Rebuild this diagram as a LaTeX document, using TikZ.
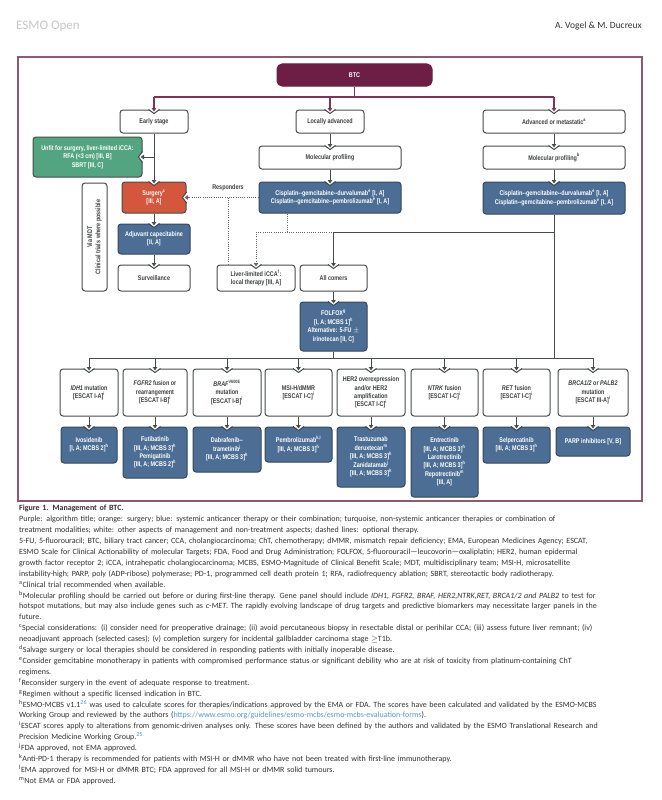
\documentclass[tikz,border=0pt]{standalone}
\usepackage{fontspec}
\setmainfont{Carlito}
\newfontfamily\boxfont[FakeStretch=0.8]{Liberation Sans}
\usetikzlibrary{arrows.meta}
\definecolor{purp}{RGB}{108,30,68}
\definecolor{purpline}{RGB}{128,50,88}
\definecolor{framec}{RGB}{140,90,115}
\definecolor{bord}{RGB}{70,78,74}
\definecolor{blueF}{RGB}{76,110,148}
\definecolor{blueD}{RGB}{52,72,95}
\definecolor{orangeF}{RGB}{212,86,60}
\definecolor{turqF}{RGB}{82,165,128}
\definecolor{txt}{RGB}{60,64,62}
\definecolor{capc}{RGB}{50,50,50}
\definecolor{linkc}{RGB}{90,150,200}
\definecolor{hdrgray}{RGB}{200,200,200}
\newcommand\mybox[7]{\node[#1, minimum width={(#5-#3)*1pt}, minimum height={(#6-#4)*1pt}] (#2) at ({(#3+#5)/2},{(#4+#6)/2}) {#7};}
\newcommand\notchT[2]{%
 \fill[white] ([xshift=-5.5pt,yshift=0.9pt]#1) -- ([xshift=5.5pt,yshift=0.9pt]#1) -- ([yshift=-4pt]#1) -- cycle;
 \draw[draw=#2, line width=1pt] ([xshift=-5.5pt]#1) -- ([yshift=-4pt]#1) -- ([xshift=5.5pt]#1);}
\newcommand\notchR[2]{%
 \fill[white] ([xshift=0.9pt,yshift=5.5pt]#1) -- ([xshift=0.9pt,yshift=-5.5pt]#1) -- ([xshift=-4pt]#1) -- cycle;
 \draw[draw=#2, line width=1pt] ([yshift=5.5pt]#1) -- ([xshift=-4pt]#1) -- ([yshift=-5.5pt]#1);}
\newcommand\jl[1]{\makebox[622pt][s]{#1}}
\newcommand\su[1]{\textsuperscript{#1}}
\begin{document}
\begin{tikzpicture}[x=1pt,y=-1pt,
 box/.style={draw=bord, line width=1pt, rounded corners=3pt, align=center, inner sep=0.5pt, font=\boxfont\bfseries\fontsize{6.8}{8.4}\selectfont, text=txt, fill=white},
 bbox/.style={box, fill=blueF, draw=blueD, text=white},
 obox/.style={box, fill=orangeF, draw=bord, text=white},
 tbox/.style={box, fill=turqF, draw=bord, text=white},
 pbox/.style={box, fill=purp, draw=purp, text=white, rounded corners=5pt},
 conn/.style={draw=bord, line width=1pt},
 arr/.style={conn, -{Triangle[length=3.5pt,width=4.5pt]}, shorten >=-2pt},
 dline/.style={draw=bord!85, line width=0.9pt, dash pattern=on 1pt off 1.2pt},
 darr/.style={dline, -{Triangle[length=3.5pt,width=4.5pt]}, shorten >=-2pt},
 pline/.style={draw=purpline, line width=1.1pt},
 parr/.style={pline, -{Triangle[length=3.5pt,width=4.5pt]}, shorten >=-2pt}]
\useasboundingbox (0,0) rectangle (661,800);
\fill[white] (0,0) rectangle (661,800);
% header
\node[anchor=west, inner sep=0pt, font=\fontsize{13}{13}\selectfont, text=hdrgray] (hdr) at (16,26) {ESMO Open};
\node[anchor=east, inner sep=0pt, font=\fontsize{9.5}{10}\selectfont, text=capc] (auth) at (642,26) {A. Vogel \& M. Ducreux};
% frame
\node[draw=framec, line width=1.2pt, minimum width=624pt, minimum height=444pt, inner sep=0pt] (frame) at (330,279) {};
% boxes
\mybox{pbox}{btc}{277}{64}{432}{86}{BTC}
\mybox{box}{early}{120}{110}{188}{133}{Early stage}
\mybox{box}{lad}{296}{110}{364}{133}{Locally advanced}
\mybox{box}{advst}{483}{110}{625}{133}{Advanced or metastatic\su{a}}
\mybox{tbox}{turq}{33}{137}{142}{177}{Unfit for surgery, liver-limited iCCA:\\RFA (<3 cm) [III, B]\\SBRT [III, C]}
\mybox{box}{mpla}{259}{146}{401}{169}{Molecular profiling}
\mybox{box}{mpad}{483}{146}{625}{169}{Molecular profiling\su{b}}
\mybox{obox}{surg}{122}{182}{186}{213}{Surgery\su{c}\\{}[III, A]}
\mybox{bbox}{bla}{259}{182}{401}{213}{Cisplatin--gemcitabine--durvalumab\su{e} [I, A]\\Cisplatin--gemcitabine--pembrolizumab\su{e} [I, A]}
\mybox{bbox}{bad}{483}{182}{625}{214}{Cisplatin--gemcitabine--durvalumab\su{e} [I, A]\\Cisplatin--gemcitabine--pembrolizumab\su{e} [I, A]}
\node[font=\boxfont\bfseries\fontsize{6.8}{8.4}\selectfont, text=txt, inner sep=0pt] (resp) at (228,188) {Responders};
\node[box, rotate=90, minimum width=108pt, minimum height=25pt] (mdt) at (94.5,237) {Via MDT\\Clinical trials where possible};
\mybox{bbox}{adj}{118}{224}{190}{254}{Adjuvant capecitabine\\{}[II, A]}
\mybox{box}{surv}{118}{265}{190}{291}{Surveillance}
\mybox{box}{liver}{217}{265}{295}{291}{Liver-limited iCCA\su{f}:\\local therapy [III, A]}
\mybox{box}{allc}{300}{265}{367}{291}{All comers}
\mybox{bbox}{folfox}{300}{302}{367}{351}{FOLFOX\su{g}\\{}[I, A; MCBS 1]\su{h}\\Alternative: 5-FU $\pm$\\irinotecan [II, C]}
% row 1
\mybox{box}{ra1}{60}{369}{118}{416}{\textit{IDH1} mutation\\{}[ESCAT I-A]\su{i}}
\mybox{box}{ra2}{123}{369}{187}{416}{\textit{FGFR2} fusion or\\rearrangement\\{}[ESCAT I-B]\su{i}}
\mybox{box}{ra3}{193}{369}{261}{416}{\textit{BRAF}\su{V600E}\\mutation\\{}[ESCAT I-B]\su{i}}
\mybox{box}{ra4}{265}{369}{332}{416}{MSI-H/dMMR\\{}[ESCAT I-C]\su{i}}
\mybox{box}{ra5}{337}{369}{405}{416}{HER2 overexpression\\and/or HER2\\amplification\\{}[ESCAT I-C]\su{i}}
\mybox{box}{ra6}{411}{369}{478}{416}{\textit{NTRK} fusion\\{}[ESCAT I-C]\su{i}}
\mybox{box}{ra7}{483}{369}{550}{416}{\textit{RET} fusion\\{}[ESCAT I-C]\su{i}}
\mybox{box}{ra8}{558}{369}{628}{416}{\textit{BRCA1/2} or \textit{PALB2}\\mutation\\{}[ESCAT III-A]\su{i}}
% row 2
\mybox{bbox}{rb1}{61}{427}{117}{463}{Ivosidenib\\{}[I, A; MCBS 2]\su{h}}
\mybox{bbox}{rb2}{123}{427}{187}{478}{Futibatinib\\{}[III, A; MCBS 3]\su{h}\\Pemigatinib\\{}[III, A; MCBS 2]\su{h}}
\mybox{bbox}{rb3}{193}{427}{261}{472}{Dabrafenib--\\trametinib\su{j}\\{}[III, A; MCBS 3]\su{h}}
\mybox{bbox}{rb4}{265}{427}{332}{462}{Pembrolizumab\su{k,l}\\{}[III, A; MCBS 3]\su{h}}
\mybox{bbox}{rb5}{337}{427}{405}{487}{Trastuzumab\\deruxtecan\su{m}\\{}[III, A; MCBS 3]\su{h}\\Zanidatamab\su{j}\\{}[III, A; MCBS 3]\su{h}}
\mybox{bbox}{rb6}{411}{427}{478}{497}{Entrectinib\\{}[III, A; MCBS 3]\su{h}\\Larotrectinib\\{}[III, A; MCBS 3]\su{h}\\Repotrectinib\su{m}\\{}[III, A]}
\mybox{bbox}{rb7}{483}{427}{550}{463}{Selpercatinib\\{}[III, A; MCBS 3]\su{h}}
\mybox{bbox}{rb8}{556}{427}{630}{456}{PARP inhibitors [V, B]}
% notches
\notchT{early.north}{bord}\notchT{lad.north}{bord}\notchT{advst.north}{bord}
\notchT{mpla.north}{bord}\notchT{mpad.north}{bord}
\notchT{bla.north}{blueD}\notchT{bad.north}{blueD}
\notchT{surg.north}{bord}\notchR{surg.east}{bord}\notchR{turq.east}{bord}
\notchT{adj.north}{blueD}\notchT{surv.north}{bord}
\notchT{liver.north}{bord}\notchT{allc.north}{bord}\notchT{folfox.north}{blueD}
\foreach \i in {1,...,8}{\notchT{ra\i.north}{bord}\notchT{rb\i.north}{blueD}}
% purple connectors
\coordinate (pj) at (354.5,97);
\draw[pline] (btc.south) -- (pj);
\draw[pline] (early.north |- pj) -- (advst.north |- pj);
\draw[parr] (early.north |- pj) -- (early.north);
\draw[parr] (lad.north |- pj) -- (lad.north);
\draw[parr] (advst.north |- pj) -- (advst.north);
% early stage
\draw[arr] (early.south) -- (surg.north);
\draw[arr] (early.south |- turq.east) -- (turq.east);
\draw[arr] (surg.south) -- (adj.north);
\draw[arr] (adj.south) -- (surv.north);
% locally advanced / advanced
\draw[arr] (lad.south) -- (mpla.north);
\draw[arr] (mpla.south) -- (bla.north);
\draw[arr] (advst.south) -- (mpad.north);
\draw[arr] (mpad.south) -- (bad.north);
% optional routes
\draw[darr] (bla.west) -- (surg.east);
\coordinate (rj) at (228,197.5);
\draw[dline] (rj) -- (rj |- liver.north);
\coordinate (lj) at (287,232);
\draw[dline] (bla.south -| lj) -- (lj);
\draw[dline] (liver.north |- lj) -- (allc.north |- lj);
\draw[darr] (liver.north |- lj) -- (liver.north);
% systemic route
\coordinate (br) at (333.5,358);
\draw[conn] (bad.south) -- (bad.south |- br);
\draw[conn] (bad.south |- lj) -- (allc.north |- lj);
\draw[arr] (allc.north |- lj) -- (allc.north);
\draw[arr] (allc.south) -- (folfox.north);
\draw[conn] (folfox.south) -- (br);
\draw[conn] (ra1.north |- br) -- (ra8.north |- br);
\foreach \i in {1,...,8}{\draw[arr] (ra\i.north |- br) -- (ra\i.north); \draw[arr] (ra\i.south) -- (rb\i.north);}
% caption
\node[anchor=north west, inner sep=0pt, text width=622pt, align=left, text=capc, font=\fontsize{8}{10.9}\selectfont] (cap) at (19,505) {%
\textbf{Figure 1. Management of BTC.}\\
\jl{Purple: algorithm title; orange: surgery; blue: systemic anticancer therapy or their combination; turquoise, non-systemic anticancer therapies or combination of}\\
treatment modalities; white: other aspects of management and non-treatment aspects; dashed lines: optional therapy.\\
\jl{5-FU, 5-fluorouracil; BTC, biliary tract cancer; CCA, cholangiocarcinoma; ChT, chemotherapy; dMMR, mismatch repair deficiency; EMA, European Medicines Agency; ESCAT,}\\
\jl{ESMO Scale for Clinical Actionability of molecular Targets; FDA, Food and Drug Administration; FOLFOX, 5-fluorouracil---leucovorin---oxaliplatin; HER2, human epidermal}\\
\jl{growth factor receptor 2; iCCA, intrahepatic cholangiocarcinoma; MCBS, ESMO-Magnitude of Clinical Benefit Scale; MDT, multidisciplinary team; MSI-H, microsatellite}\\
instability-high; PARP, poly (ADP-ribose) polymerase; PD-1, programmed cell death protein 1; RFA, radiofrequency ablation; SBRT, stereotactic body radiotherapy.\\
\su{a}Clinical trial recommended when available.\\
\jl{\su{b}Molecular profiling should be carried out before or during first-line therapy. Gene panel should include \textit{IDH1, FGFR2, BRAF, HER2,NTRK,RET, BRCA1/2 and PALB2} to test for}\\
\jl{hotspot mutations, but may also include genes such as \textit{c-MET}. The rapidly evolving landscape of drug targets and predictive biomarkers may necessitate larger panels in the}\\
future.\\
\jl{\su{c}Special considerations: (i) consider need for preoperative drainage; (ii) avoid percutaneous biopsy in resectable distal or perihilar CCA; (iii) assess future liver remnant; (iv)}\\
neoadjuvant approach (selected cases); (v) completion surgery for incidental gallbladder carcinoma stage $\geq$T1b.\\
\su{d}Salvage surgery or local therapies should be considered in responding patients with initially inoperable disease.\\
\jl{\su{e}Consider gemcitabine monotherapy in patients with compromised performance status or significant debility who are at risk of toxicity from platinum-containing ChT}\\
regimens.\\
\su{f}Reconsider surgery in the event of adequate response to treatment.\\
\su{g}Regimen without a specific licensed indication in BTC.\\
\jl{\su{h}ESMO-MCBS v1.1\textcolor{linkc}{\su{26}} was used to calculate scores for therapies/indications approved by the EMA or FDA. The scores have been calculated and validated by the ESMO-MCBS}\\
Working Group and reviewed by the authors (\textcolor{linkc}{https://www.esmo.org/guidelines/esmo-mcbs/esmo-mcbs-evaluation-forms}).\\
\jl{\su{i}ESCAT scores apply to alterations from genomic-driven analyses only. These scores have been defined by the authors and validated by the ESMO Translational Research and}\\
Precision Medicine Working Group.\textcolor{linkc}{\su{25}}\\
\su{j}FDA approved, not EMA approved.\\
\su{k}Anti-PD-1 therapy is recommended for patients with MSI-H or dMMR who have not been treated with first-line immunotherapy.\\
\su{l}EMA approved for MSI-H or dMMR BTC; FDA approved for all MSI-H or dMMR solid tumours.\\
\su{m}Not EMA or FDA approved.};
\end{tikzpicture}
\end{document}
